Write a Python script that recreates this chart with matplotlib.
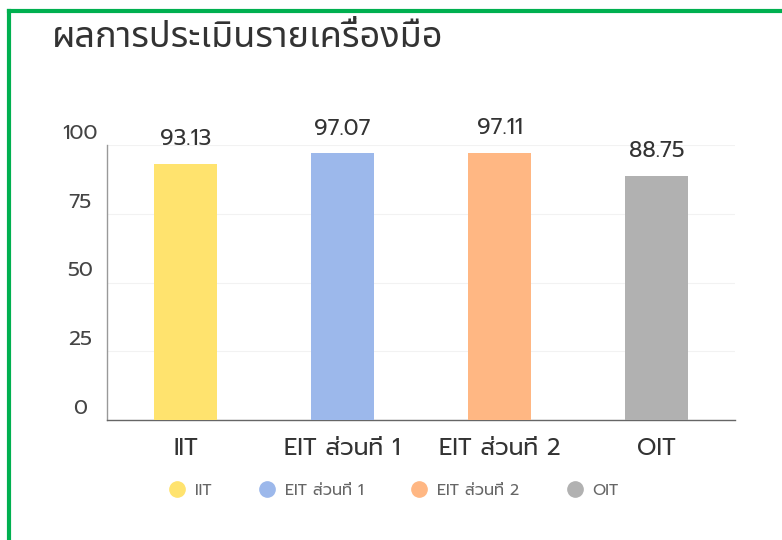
import matplotlib
matplotlib.use("Agg")
import matplotlib.pyplot as plt
from matplotlib.lines import Line2D

# ---- data ----
categories = ["IIT", "EIT ส่วนที่ 1", "EIT ส่วนที่ 2", "OIT"]
values = [93.13, 97.07, 97.11, 88.75]
value_labels = ["93.13", "97.07", "97.11", "88.75"]
yticks = [0, 25, 50, 75, 100]
title = "ผลการประเมินรายเครื่องมือ"
colors = ["#FFE36E", "#9CB8EB", "#FFB783", "#B1B1B1"]

LAT = ["Prompt", "Noto Sans Thai", "DejaVu Sans"]
THAI = ["Noto Sans Thai", "DejaVu Sans"]

W, H = 782, 540
fig = plt.figure(figsize=(W / 100, H / 100), dpi=100)

def fx(px):
    return px / W

def fy(py):
    return 1 - py / H

# green frame
fig.add_artist(Line2D([fx(9), fx(9)], [fy(11), 0], color="#00B050", lw=3.0,
                      transform=fig.transFigure, solid_capstyle="projecting"))
fig.add_artist(Line2D([fx(9), 1], [fy(11), fy(11)], color="#00B050", lw=3.0,
                      transform=fig.transFigure, solid_capstyle="projecting"))

# title
fig.text(fx(52), fy(38), title, fontsize=26, color="#333333", family=THAI,
         ha="left", va="center")

ax = fig.add_axes([fx(107), fy(420), fx(735) - fx(107), fy(145) - fy(420)])
x = list(range(len(categories)))
ax.bar(x, values, width=0.4, color=colors, zorder=3)
ax.set_xlim(-0.5, len(categories) - 0.5)
ax.set_ylim(0, 100)

for s in ["top", "right"]:
    ax.spines[s].set_visible(False)
ax.spines["left"].set_color("#999999")
ax.spines["left"].set_linewidth(1.0)
ax.spines["bottom"].set_color("#666666")
ax.spines["bottom"].set_linewidth(1.0)

ax.set_yticks(yticks)
ax.set_yticklabels([])
ax.tick_params(axis="y", length=0)
ax.yaxis.grid(True, color="#F2F2F2", lw=0.8, zorder=0)
ylab_tr = ax.get_yaxis_transform()
for t in yticks:
    ax.annotate(str(t), (0, t), xycoords=ylab_tr, xytext=(-27, 11),
                textcoords="offset pixels", ha="center", va="center",
                fontsize=15, color="#444444", family=LAT, annotation_clip=False)

ax.set_xticks(x)
ax.set_xticklabels(categories, family=LAT, fontsize=17, color="#333333")
ax.tick_params(axis="x", length=0, pad=12)

for xi, v, lab in zip(x, values, value_labels):
    ax.annotate(lab, (xi, v), xytext=(0, 24), textcoords="offset pixels",
                ha="center", va="center", fontsize=16, color="#333333", family=LAT)

# legend
handles = [Line2D([], [], marker="o", ls="none", markersize=11, markerfacecolor=c,
                  markeredgecolor=c) for c in colors]
leg = fig.legend(handles, categories, loc="center", bbox_to_anchor=(fx(394), fy(491)),
                 ncol=4, frameon=False, handletextpad=0.6, columnspacing=3.0,
                 prop={"family": LAT, "size": 11.5}, handlelength=1.0)
for t in leg.get_texts():
    t.set_color("#666666")

fig.savefig("out.png", dpi=100)
